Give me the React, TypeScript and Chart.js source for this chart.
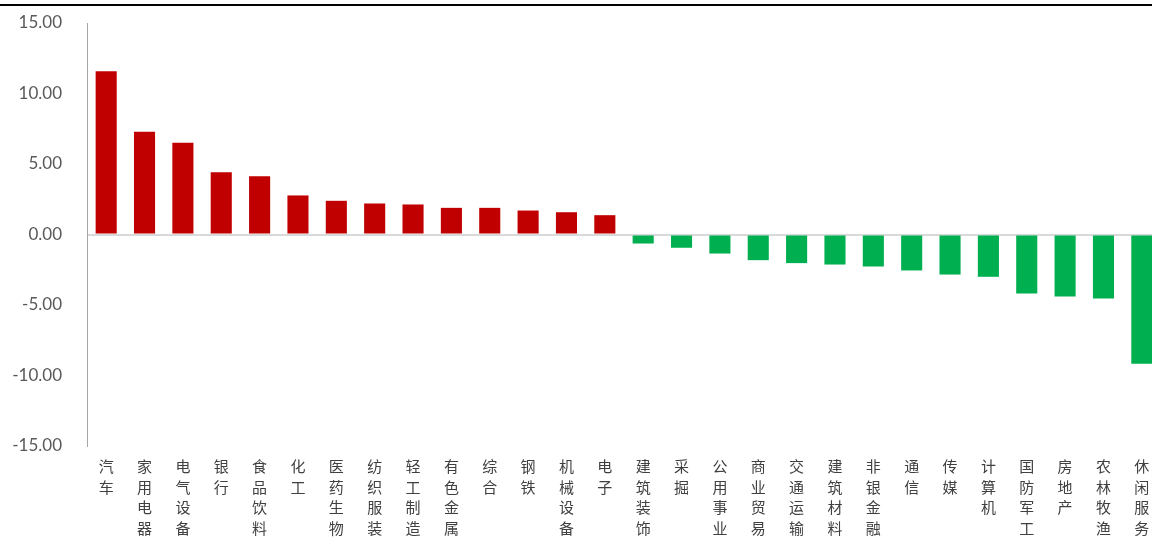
import { useEffect, useRef } from 'react';
import { Chart, registerables } from 'chart.js';

Chart.register(...registerables);

const categories = [
  '汽车', '家用电器', '电气设备', '银行', '食品饮料', '化工', '医药生物', '纺织服装',
  '轻工制造', '有色金属', '综合', '钢铁', '机械设备', '电子', '建筑装饰', '采掘',
  '公用事业', '商业贸易', '交通运输', '建筑材料', '非银金融', '通信', '传媒', '计算机',
  '国防军工', '房地产', '农林牧渔', '休闲服务',
];

const values = [
  11.58, 7.28, 6.5, 4.42, 4.13, 2.77, 2.39, 2.2,
  2.13, 1.89, 1.89, 1.7, 1.58, 1.37, -0.64, -0.94,
  -1.35, -1.82, -2.03, -2.13, -2.27, -2.55, -2.84, -3.0,
  -4.18, -4.4, -4.54, -9.17,
];

const yMin = -15;
const yMax = 15;
const yStep = 5;

const RED = '#C00000';
const GREEN = '#00B050';

export default function App() {
  const ref = useRef<HTMLCanvasElement>(null);

  useEffect(() => {
    if (!ref.current) return;
    const chart = new Chart(ref.current, {
      type: 'bar',
      data: {
        labels: categories.map((c) => Array.from(c)),
        datasets: [
          {
            data: values,
            backgroundColor: values.map((v) => (v >= 0 ? RED : GREEN)),
            categoryPercentage: 1,
            barPercentage: 0.55,
          },
        ],
      },
      options: {
        responsive: false,
        animation: false,
        layout: { padding: { top: 23, left: 0, right: 0, bottom: 0 } },
        plugins: { legend: { display: false }, tooltip: { enabled: false } },
        scales: {
          x: {
            grid: { display: false, drawTicks: false },
            border: { display: false },
            ticks: {
              autoSkip: false,
              maxRotation: 0,
              minRotation: 0,
              padding: 10,
              color: '#404040',
              font: { family: '"Noto Sans CJK SC", sans-serif', size: 15, lineHeight: 1.38 },
            },
            afterFit: (s: any) => {
              s.height = 94;
            },
          },
          y: {
            min: yMin,
            max: yMax,
            ticks: {
              stepSize: yStep,
              padding: 25,
              color: '#595959',
              font: { family: 'Lato, sans-serif', size: 17 },
              callback: (v: any) => Number(v).toFixed(2),
            },
            grid: {
              drawTicks: false,
              lineWidth: 2,
              color: (ctx: any) =>
                ctx.tick && ctx.tick.value === 0 ? '#D9D9D9' : 'rgba(0,0,0,0)',
            },
            border: { display: true, color: '#A6A6A6', width: 1 },
            afterFit: (s: any) => {
              s.width = 87;
              s.paddingTop = 0;
              s.paddingBottom = 0;
            },
          },
        },
      },
    });
    return () => chart.destroy();
  }, []);

  return (
    <div
      style={{
        position: 'absolute',
        left: 0,
        top: 0,
        width: 1152,
        height: 540,
        overflow: 'hidden',
        background: '#fff',
      }}
    >
      <canvas ref={ref} width={1161} height={540} style={{ display: 'block' }} />
      <div
        style={{
          position: 'absolute',
          left: 0,
          top: 4,
          width: 1152,
          height: 2,
          background: '#000',
        }}
      />
    </div>
  );
}
